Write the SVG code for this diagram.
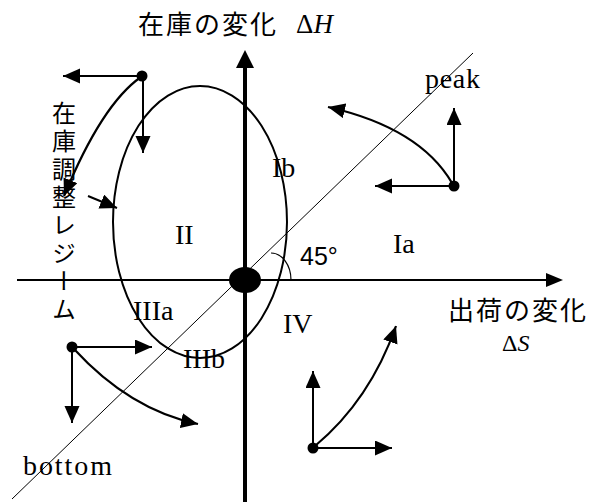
<svg xmlns="http://www.w3.org/2000/svg" width="592" height="502" viewBox="0 0 592 502">
<style>
.ser{font-family:"Liberation Serif","Times New Roman",serif;font-size:28px;fill:#000}
.jp{font-family:"Noto Sans CJK JP","Noto Sans CJK SC",sans-serif;fill:#000}
.vec{fill:none;stroke:#000;stroke-width:2}
.crv{fill:none;stroke:#000;stroke-width:2.2}
</style>
<defs>
<marker id="ah" markerUnits="userSpaceOnUse" markerWidth="18" markerHeight="16" refX="17" refY="7.5" orient="auto">
<path d="M0,0 L17,7.5 L0,15 z" fill="#000"/>
</marker>
</defs>
<rect width="592" height="502" fill="#fff"/>
<g id="axes">
<line x1="17" y1="280" x2="548" y2="280" stroke="#000" stroke-width="2"/>
<path d="M563,280 L546,273 L546,287 z" fill="#000"/>
<line x1="245" y1="66" x2="245" y2="502" stroke="#000" stroke-width="4"/>
<path d="M245,50 L236,68 L254,68 z" fill="#000"/>
</g>
<g id="diagonal">
<line x1="473" y1="53" x2="12" y2="499" stroke="#000" stroke-width="1"/>
<path d="M 271 253 A 20 27 0 0 1 291 280" fill="none" stroke="#000" stroke-width="1.2"/>
</g>
<g id="regime-ellipse">
<ellipse cx="200" cy="222" rx="87" ry="136" fill="none" stroke="#000" stroke-width="2"/>
</g>
<g id="origin">
<ellipse cx="245" cy="280" rx="16" ry="13" fill="#000"/>
</g>
<g id="connectors">
<line class="vec" x1="142" y1="76" x2="63" y2="76" marker-end="url(#ah)"/>
<line class="vec" x1="143" y1="76" x2="143" y2="153" marker-end="url(#ah)"/>
<path class="crv" d="M 141 77 Q 102 104 64 196" marker-end="url(#ah)"/>
<line class="vec" x1="88" y1="196" x2="117" y2="208" marker-end="url(#ah)"/>
<line class="vec" x1="454" y1="186" x2="454" y2="108" marker-end="url(#ah)"/>
<line class="vec" x1="454" y1="186" x2="375" y2="186" marker-end="url(#ah)"/>
<path class="crv" d="M 452 183 Q 420 128 328 107" marker-end="url(#ah)"/>
<line class="vec" x1="72" y1="347" x2="152" y2="347" marker-end="url(#ah)"/>
<line class="vec" x1="72" y1="347" x2="72" y2="423" marker-end="url(#ah)"/>
<path class="crv" d="M 74 349 Q 130 410 198 424" marker-end="url(#ah)"/>
<line class="vec" x1="313" y1="448" x2="313" y2="371" marker-end="url(#ah)"/>
<line class="vec" x1="313" y1="448" x2="392" y2="448" marker-end="url(#ah)"/>
<path class="crv" d="M 315 446 Q 370 400 396 326" marker-end="url(#ah)"/>
</g>
<g id="dots">
<circle cx="142" cy="76" r="5.5" fill="#000"/>
<circle cx="454" cy="186" r="5.5" fill="#000"/>
<circle cx="72" cy="347" r="5.5" fill="#000"/>
<circle cx="313" cy="448" r="5.5" fill="#000"/>
</g>
<g id="labels">
<text class="jp" x="138" y="34" font-size="26" letter-spacing="2">在庫の変化</text>
<text class="ser" x="296" y="33" style="font-size:27px">Δ<tspan font-style="italic">H</tspan></text>
<text class="jp" x="448" y="320" font-size="26" letter-spacing="2">出荷の変化</text>
<text class="ser" x="502" y="351" style="font-size:24px">Δ<tspan font-style="italic">S</tspan></text>
<text class="jp" x="64" y="101" font-size="24" letter-spacing="4" writing-mode="vertical-rl" style="writing-mode:vertical-rl">在庫調整レジーム</text>
<text class="ser" x="425" y="88" textLength="55">peak</text>
<text class="ser" x="23" y="475" textLength="89">bottom</text>
<text class="ser" x="272" y="177">Ib</text>
<text class="ser" x="175" y="244">II</text>
<text class="ser" x="393" y="253">Ia</text>
<text class="ser" x="133" y="320">IIIa</text>
<text class="ser" x="283" y="333">IV</text>
<text class="ser" x="183" y="368">IIIb</text>
<text x="300" y="265" font-family="Liberation Sans, Arial, sans-serif" font-size="25">45°</text>
</g>
</svg>
